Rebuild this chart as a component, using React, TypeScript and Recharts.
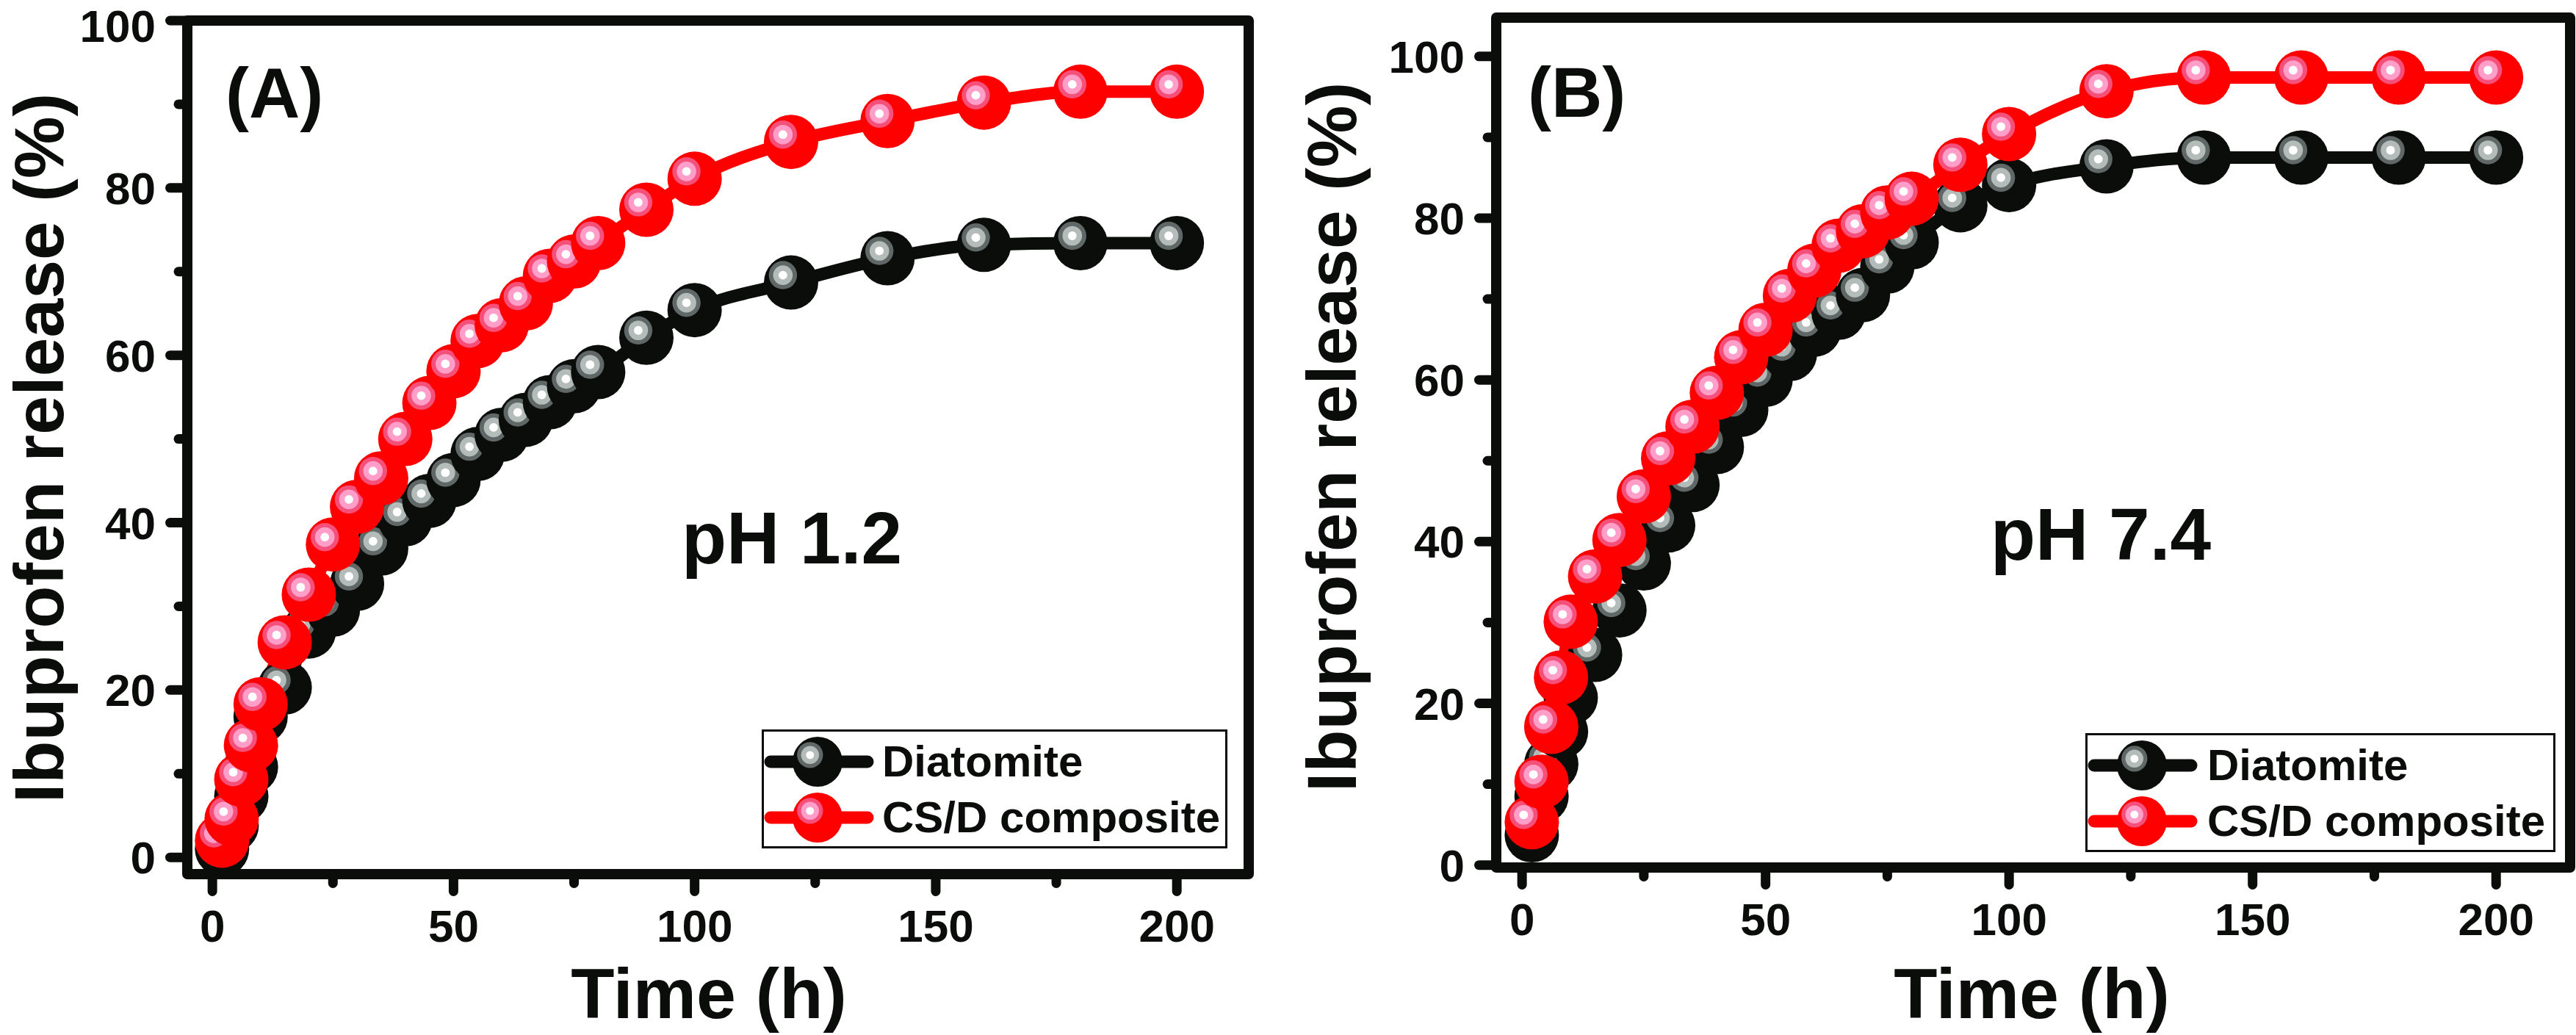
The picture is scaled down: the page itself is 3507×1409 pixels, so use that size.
import React from 'react';
import { LineChart, Line, XAxis, YAxis, Legend, ReferenceArea, Label } from 'recharts';

// sampling times (h), shared by both panels
const TIME_H = [2, 4, 6, 8, 10, 15, 20, 25, 30, 35, 40, 45, 50, 55, 60, 65, 70, 75, 80, 90, 100, 120, 140, 160, 180, 200];

// (A) pH 1.2
const DIATOMITE_PH12 = [1.0, 3.8, 7.3, 10.8, 16.8, 20.3, 27.0, 29.6, 32.7, 36.9, 40.4, 42.6, 45.1, 48.2, 50.5, 52.3, 54.4, 56.3, 58.0, 62.1, 65.4, 68.7, 71.6, 73.2, 73.4, 73.4];
const COMPOSITE_PH12 = [2.0, 4.6, 9.3, 13.4, 18.3, 25.7, 31.4, 37.4, 41.9, 45.3, 50.0, 54.3, 58.1, 61.7, 63.6, 66.2, 69.5, 71.2, 73.4, 77.4, 81.1, 85.5, 88.0, 90.2, 91.5, 91.5];

// (B) pH 7.4
const DIATOMITE_PH74 = [3.7, 8.5, 12.5, 16.5, 20.7, 26.0, 31.5, 37.3, 42.0, 47.0, 51.7, 56.3, 60.0, 63.2, 66.2, 68.3, 70.5, 74.0, 77.0, 81.6, 84.1, 86.4, 87.5, 87.5, 87.5, 87.5];
const COMPOSITE_PH74 = [5.3, 10.3, 17.1, 23.2, 30.1, 35.7, 40.2, 45.6, 50.3, 54.2, 58.4, 62.8, 66.2, 70.4, 73.5, 76.6, 78.4, 80.7, 82.4, 86.6, 90.4, 95.7, 97.4, 97.4, 97.4, 97.4];

const SERIES_NAMES = ['Diatomite', 'CS/D composite'];

const X_TICKS_MAJOR = [0, 50, 100, 150, 200];
const X_TICKS_MINOR = [25, 75, 125, 175];
const Y_TICKS_MAJOR = [0, 20, 40, 60, 80, 100];
const Y_TICKS_MINOR = [10, 30, 50, 70, 90];

const INK = '#0b0d0b';
const FONT = '"Liberation Sans", Arial, Helvetica, sans-serif';

// ball marker colours (Origin style)
const SERIES_STYLE: Record<string, { line: string; ring: string; inner: string }> = {
  Diatomite: { line: '#0b0d0b', ring: '#5f6866', inner: '#b3bcb9' },
  'CS/D composite': { line: '#fe0000', ring: '#f5507a', inner: '#ff9fc9' },
};

const Ball = ({ cx, cy, r, st }: any) => {
  const hx = cx - r * 0.3;
  const hy = cy - r * 0.27;
  return (
    <g>
      <circle cx={cx} cy={cy} r={r} fill={st.line} />
      <circle cx={hx} cy={hy} r={r * 0.52} fill={st.ring} />
      <circle cx={hx} cy={hy} r={r * 0.36} fill={st.inner} />
      <circle cx={hx} cy={hy} r={r * 0.16} fill="#ffffff" />
    </g>
  );
};

const makeDot = (name: string) => (props: any) => {
  const { cx, cy, index } = props;
  if (cx == null || cy == null) return <g key={`${name}-${index}`} />;
  return <Ball key={`${name}-${index}`} cx={cx} cy={cy} r={37} st={SERIES_STYLE[name]} />;
};

const XTick = ({ x, y, payload }: any) => {
  const major = X_TICKS_MAJOR.includes(payload.value);
  return (
    <g>
      <line x1={x} x2={x} y1={y} y2={y + (major ? 23.5 : 12.5)} stroke={INK} strokeWidth={13} strokeLinecap="round" />
      {major && (
        <text x={x} y={y + 92} textAnchor="middle" fill={INK} fontFamily={FONT} fontWeight="bold" fontSize={62}>
          {payload.value}
        </text>
      )}
    </g>
  );
};

const YTick = ({ x, y, payload }: any) => {
  const major = Y_TICKS_MAJOR.includes(payload.value);
  // keep the top label inside the page
  const ty = Math.max(y + 22, 57);
  return (
    <g>
      <line x1={x} x2={x - (major ? 23.5 : 12)} y1={y} y2={y} stroke={INK} strokeWidth={13} strokeLinecap="round" />
      {major && (
        <text x={x - 43} y={ty} textAnchor="end" fill={INK} fontFamily={FONT} fontWeight="bold" fontSize={62}>
          {payload.value}
        </text>
      )}
    </g>
  );
};

const renderLegend = (box: any) => ({ payload }: any) => {
  // keep the plotting order: Diatomite first
  const items = [...(payload || [])].sort(
    (a: any, b: any) => SERIES_NAMES.indexOf(a.value) - SERIES_NAMES.indexOf(b.value)
  );
  return (
    <div
      style={{
        boxSizing: 'border-box',
        width: box.w,
        height: box.h,
        border: `3px solid ${INK}`,
        background: '#fff',
        paddingTop: 3,
      }}
    >
      {items.map((entry: any) => {
        const st = SERIES_STYLE[entry.value];
        return (
          <div key={entry.value} style={{ display: 'flex', alignItems: 'center', height: 76 }}>
            <svg width={box.textX} height={76} style={{ display: 'block', flex: 'none' }}>
              <line x1={9} x2={box.lineEnd} y1={38} y2={38} stroke={st.line} strokeWidth={17} strokeLinecap="round" />
              <Ball cx={box.markX} cy={38} r={34} st={st} />
            </svg>
            <span style={{ fontFamily: FONT, fontWeight: 'bold', fontSize: 60, lineHeight: '60px', color: INK, whiteSpace: 'nowrap' }}>
              {entry.value}
            </span>
          </div>
        );
      })}
    </div>
  );
};

const PANELS = [
  {
    key: 'A',
    left: 0,
    width: 1754,
    top: 28,
    right: 54,
    yAxisWidth: 255,
    xAxisHeight: 219,
    xDomain: [-5.2, 214.9],
    yDomain: [-2, 100],
    diatomite: DIATOMITE_PH12,
    composite: COMPOSITE_PH12,
    tag: '(A)',
    tagX: 307,
    tagY: 160,
    ph: 'pH 1.2',
    phX: 928,
    phY: 767,
    xTitleX: 965,
    xTitleY: 1386,
    yTitleX: 86,
    yTitleY: 610,
    legend: { x: 1037, y: 993, w: 634, h: 162, markX: 73, textX: 161, lineEnd: 141 },
  },
  {
    key: 'B',
    left: 1754,
    width: 1753,
    top: 24,
    right: 8,
    yAxisWidth: 283,
    xAxisHeight: 228,
    xDomain: [-5.3, 215.2],
    yDomain: [-0.3, 104.8],
    diatomite: DIATOMITE_PH74,
    composite: COMPOSITE_PH74,
    tag: '(B)',
    tagX: 326,
    tagY: 159,
    ph: 'pH 7.4',
    phX: 956,
    phY: 762,
    xTitleX: 1012,
    xTitleY: 1386,
    yTitleX: 92,
    yTitleY: 595,
    legend: { x: 1085, y: 998, w: 640, h: 162, markX: 74, textX: 163, lineEnd: 141 },
  },
];

const Panel = ({ cfg }: any) => {
  const rows = TIME_H.map((t, i) => ({ t, diatomite: cfg.diatomite[i], composite: cfg.composite[i] }));
  const xTicks = [...X_TICKS_MAJOR, ...X_TICKS_MINOR].sort((a, b) => a - b);
  const yTicks = [...Y_TICKS_MAJOR, ...Y_TICKS_MINOR].sort((a, b) => a - b);
  return (
    <div style={{ position: 'absolute', left: cfg.left, top: 0, width: cfg.width, height: 1409 }}>
      <LineChart
        width={cfg.width}
        height={1409}
        data={rows}
        margin={{ top: cfg.top, right: cfg.right, bottom: 0, left: 0 }}
      >
        <XAxis
          type="number"
          dataKey="t"
          domain={cfg.xDomain}
          ticks={xTicks}
          interval={0}
          tick={<XTick />}
          tickLine={false}
          axisLine={false}
          tickSize={0}
          tickMargin={0}
          height={cfg.xAxisHeight}
        >
          <Label
            content={() => (
              <text x={cfg.xTitleX} y={cfg.xTitleY} textAnchor="middle" fill={INK} fontFamily={FONT} fontWeight="bold" fontSize={97}>
                Time (h)
              </text>
            )}
          />
        </XAxis>
        <YAxis
          type="number"
          domain={cfg.yDomain}
          ticks={yTicks}
          interval={0}
          tick={<YTick />}
          tickLine={false}
          axisLine={false}
          tickSize={0}
          tickMargin={0}
          width={cfg.yAxisWidth}
        >
          <Label
            content={() => (
              <text
                transform={`translate(${cfg.yTitleX},${cfg.yTitleY}) rotate(-90)`}
                textAnchor="middle"
                fill={INK}
                fontFamily={FONT}
                fontWeight="bold"
                fontSize={95}
              >
                Ibuprofen release (%)
              </text>
            )}
          />
        </YAxis>
        <ReferenceArea
          x1={cfg.xDomain[0]}
          x2={cfg.xDomain[1]}
          y1={cfg.yDomain[0]}
          y2={cfg.yDomain[1]}
          fill="none"
          fillOpacity={0}
          stroke={INK}
          strokeWidth={14}
          strokeLinejoin="round"
          ifOverflow="visible"
        />
        <Line
          dataKey="diatomite"
          name={SERIES_NAMES[0]}
          type="monotone"
          stroke={SERIES_STYLE[SERIES_NAMES[0]].line}
          strokeWidth={17}
          dot={makeDot(SERIES_NAMES[0])}
          activeDot={false}
          isAnimationActive={false}
        />
        <Line
          dataKey="composite"
          name={SERIES_NAMES[1]}
          type="monotone"
          stroke={SERIES_STYLE[SERIES_NAMES[1]].line}
          strokeWidth={17}
          dot={makeDot(SERIES_NAMES[1])}
          activeDot={false}
          isAnimationActive={false}
        />
        <Legend
          layout="vertical"
          align="center"
          verticalAlign="middle"
          wrapperStyle={{ left: cfg.legend.x, top: cfg.legend.y, width: cfg.legend.w, height: cfg.legend.h }}
          content={renderLegend(cfg.legend)}
        />
      </LineChart>
      <svg
        width={cfg.width}
        height={1409}
        style={{ position: 'absolute', left: 0, top: 0, pointerEvents: 'none' }}
      >
        <text x={cfg.tagX} y={cfg.tagY} fill={INK} fontFamily={FONT} fontWeight="bold" fontSize={96}>
          {cfg.tag}
        </text>
        <text x={cfg.phX} y={cfg.phY} fill={INK} fontFamily={FONT} fontWeight="bold" fontSize={100}>
          {cfg.ph}
        </text>
      </svg>
    </div>
  );
};

export default function App() {
  return (
    <div style={{ position: 'absolute', left: 0, top: 0, width: 3507, height: 1409, background: '#ffffff', overflow: 'hidden' }}>
      {PANELS.map((cfg) => (
        <Panel key={cfg.key} cfg={cfg} />
      ))}
    </div>
  );
}
